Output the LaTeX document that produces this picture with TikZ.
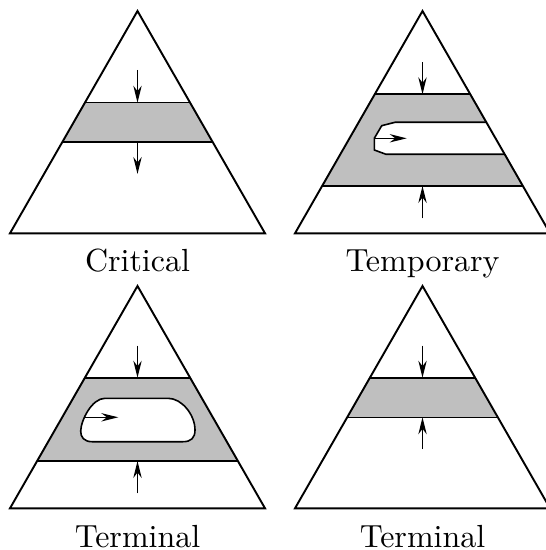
\documentclass[tikz,border=0pt]{standalone}
\usepackage{tikz}
\usetikzlibrary{calc,arrows.meta}

\begin{document}
\begin{tikzpicture}[
    x=0.3125pt, y=-0.3125pt,
    font=\normalsize,
    pyramid/.style={draw=black, line width=0.6pt, line join=miter},
    band/.style={fill=black!25},
    hole/.style={fill=white, draw=black, line width=0.5pt},
    cut/.style={draw=black, line width=0.5pt},
    flow/.style={-{Stealth[length=5.3pt,width=2.6pt]}, line width=0.45pt},
    caption/.style={anchor=base, inner sep=0pt}
]
\useasboundingbox (0,0) rectangle (545,550);

% Critical
\begin{scope}
\coordinate (Apex) at (137.5,11);
\coordinate (BaseL) at (10,233.3);
\coordinate (BaseR) at (265,233.3);
\begin{scope}
\clip (Apex) -- (BaseL) -- (BaseR) -- cycle;
\fill[band] (0,102.7) rectangle (280,142.3);
\draw[cut] (0,102.7) -- (280,102.7);
\draw[cut] (0,142.3) -- (280,142.3);
\end{scope}
\draw[pyramid] (Apex) -- (BaseL) -- (BaseR) -- cycle;
\coordinate (InTop) at (137.5,70);
\coordinate (BandTop) at (137.5,102.7);
\coordinate (BandBot) at (137.5,142.3);
\coordinate (OutBot) at (137.5,174);
\draw[flow] (InTop) -- (BandTop);
\draw[flow] (BandBot) -- (OutBot);
\node[caption] (Critical) at (137.5,272) {Critical};
\end{scope}

% Temporary
\begin{scope}[shift={(285,0)}]
\coordinate (Apex) at (137.5,11);
\coordinate (BaseL) at (10,233.3);
\coordinate (BaseR) at (265,233.3);
\begin{scope}
\clip (Apex) -- (BaseL) -- (BaseR) -- cycle;
\fill[band] (0,94.3) rectangle (280,186);
\draw[cut] (0,94.3) -- (280,94.3);
\draw[cut] (0,186) -- (280,186);
\fill[white] (280,122.3) -- (110,122.3) -- (96.7,125.7) -- (89.3,138.3)
    -- (89.3,150) -- (101,154.3) -- (280,154.3) -- cycle;
\draw[cut] (280,122.3) -- (110,122.3) -- (96.7,125.7) -- (89.3,138.3)
    -- (89.3,150) -- (101,154.3) -- (280,154.3);
\end{scope}
\draw[pyramid] (Apex) -- (BaseL) -- (BaseR) -- cycle;
\coordinate (InTop) at (137.5,62.3);
\coordinate (BandTop) at (137.5,94.3);
\coordinate (BandBot) at (137.5,186);
\coordinate (InBot) at (137.5,218.3);
\coordinate (SlotL) at (89.3,138.3);
\coordinate (SlotR) at (121.7,138.3);
\draw[flow] (InTop) -- (BandTop);
\draw[flow] (InBot) -- (BandBot);
\draw[flow] (SlotL) -- (SlotR);
\node[caption] (Temporary) at (137.5,272) {Temporary};
\end{scope}

% Terminal, with a trapped hole
\begin{scope}[shift={(0,275)}]
\coordinate (Apex) at (137.5,11);
\coordinate (BaseL) at (10,233.3);
\coordinate (BaseR) at (265,233.3);
\begin{scope}
\clip (Apex) -- (BaseL) -- (BaseR) -- cycle;
\fill[band] (0,102.7) rectangle (280,186);
\draw[cut] (0,102.7) -- (280,102.7);
\draw[cut] (0,186) -- (280,186);
\end{scope}
\draw[hole] (105,123.3) -- (168,123.3)
    .. controls (182,123.3) and (195,140) .. (195,155)
    .. controls (195,163) and (191,166.7) .. (183,166.7)
    -- (92,166.7)
    .. controls (84,166.7) and (80.5,162) .. (80.7,156)
    .. controls (81,145) and (92,123.3) .. (105,123.3) -- cycle;
\draw[pyramid] (Apex) -- (BaseL) -- (BaseR) -- cycle;
\coordinate (InTop) at (137.5,70.7);
\coordinate (BandTop) at (137.5,102.7);
\coordinate (BandBot) at (137.5,186);
\coordinate (InBot) at (137.5,218.3);
\coordinate (HoleL) at (85,142.3);
\coordinate (HoleR) at (118.3,142.3);
\draw[flow] (InTop) -- (BandTop);
\draw[flow] (InBot) -- (BandBot);
\draw[flow] (HoleL) -- (HoleR);
\node[caption] (TerminalA) at (137.5,272) {Terminal};
\end{scope}

% Terminal
\begin{scope}[shift={(285,275)}]
\coordinate (Apex) at (137.5,11);
\coordinate (BaseL) at (10,233.3);
\coordinate (BaseR) at (265,233.3);
\begin{scope}
\clip (Apex) -- (BaseL) -- (BaseR) -- cycle;
\fill[band] (0,102.7) rectangle (280,142.3);
\draw[cut] (0,102.7) -- (280,102.7);
\draw[cut] (0,142.3) -- (280,142.3);
\end{scope}
\draw[pyramid] (Apex) -- (BaseL) -- (BaseR) -- cycle;
\coordinate (InTop) at (137.5,70.7);
\coordinate (BandTop) at (137.5,102.7);
\coordinate (BandBot) at (137.5,142.3);
\coordinate (InBot) at (137.5,174);
\draw[flow] (InTop) -- (BandTop);
\draw[flow] (InBot) -- (BandBot);
\node[caption] (TerminalB) at (137.5,272) {Terminal};
\end{scope}
\end{tikzpicture}
\end{document}
